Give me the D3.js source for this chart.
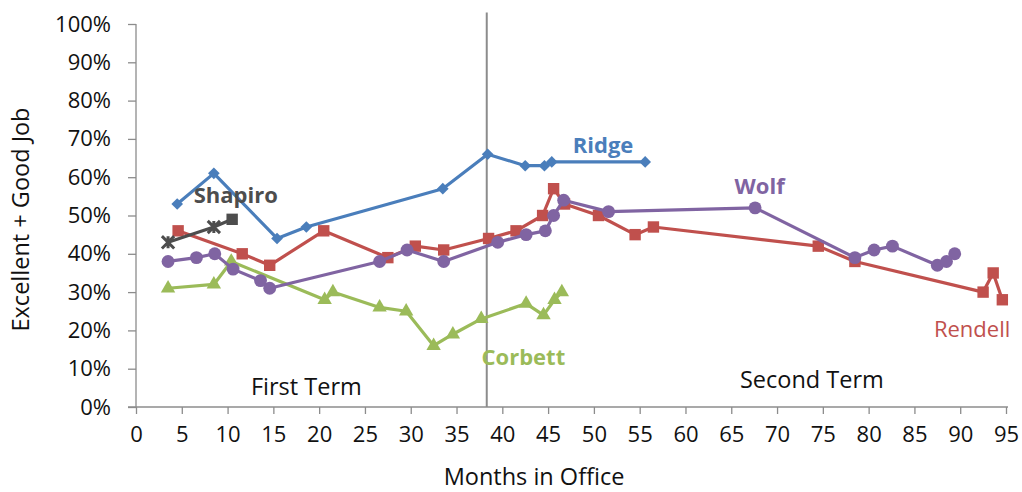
<!DOCTYPE html>
<html>
<head>
<meta charset="utf-8">
<script src="https://cdn.jsdelivr.net/npm/d3@7"></script>
<style>
  html, body { margin: 0; padding: 0; background: #fff; }
  svg { display: block; font-family: "Open Sans", sans-serif; }
</style>
</head>
<body>
<svg id="chart" width="1022" height="492"></svg>
<script>
// Months in office and "excellent + good" job ratings (%) per governor
const ridgeMonths   = [4.5, 8.5, 15.4, 18.6, 33.5, 38.4, 42.5, 44.6, 45.4, 55.6];
const ridgeValues   = [53, 61, 44, 47, 57, 66, 63, 63, 64, 64];

const rendellMonths = [4.6, 11.6, 14.6, 20.5, 27.5, 30.5, 33.6, 38.5, 41.5, 44.4, 45.6, 46.8, 50.5, 54.5, 56.5, 74.5, 78.5, 92.5, 93.6, 94.6];
const rendellValues = [46, 40, 37, 46, 39, 42, 41, 44, 46, 50, 57, 53, 50, 45, 47, 42, 38, 30, 35, 28];

const corbettMonths = [3.5, 8.5, 10.4, 20.6, 21.5, 26.6, 29.5, 32.5, 34.6, 37.7, 42.6, 44.5, 45.7, 46.5];
const corbettValues = [31, 32, 38, 28, 30, 26, 25, 16, 19, 23, 27, 24, 28, 30];

const wolfMonths    = [3.5, 6.6, 8.6, 10.6, 13.6, 14.6, 26.6, 29.6, 33.6, 39.5, 42.6, 44.7, 45.6, 46.7, 51.6, 67.6, 78.5, 80.6, 82.6, 87.5, 88.5, 89.4];
const wolfValues    = [38, 39, 40, 36, 33, 31, 38, 41, 38, 43, 45, 46, 50, 54, 51, 52, 39, 41, 42, 37, 38, 40];

const shapiroMonths = [3.5, 8.5, 10.5];
const shapiroValues = [43, 47, 49];

// Axis ticks and the month that splits the two terms
const xTicks = d3.range(0, 100, 5);
const yTicks = d3.range(0, 101, 10);
const termBreak = 38.3;

const svg = d3.select("#chart");
const x = d3.scaleLinear().domain([0, 95]).range([136, 1006]);
const y = d3.scaleLinear().domain([0, 100]).range([407, 24]);
const axisColor = "#8c8c8c";
const textColor = "#111";
const wordSize = 23.5;
const digitSize = 22;

// Y axis
const yAxis = svg.append("g")
  .attr("transform", `translate(${x(0)},0)`)
  .call(d3.axisLeft(y).tickValues(yTicks).tickSize(8).tickPadding(17).tickFormat(d => d + "%"));
yAxis.select(".domain").attr("stroke", axisColor).attr("stroke-width", 1.3)
  .attr("d", `M0,${y(100)}V${y(0)}`);
yAxis.selectAll(".tick line").attr("stroke", axisColor).attr("stroke-width", 1.3);
yAxis.selectAll(".tick text").attr("font-size", digitSize).attr("fill", textColor)
  .attr("font-family", "'Open Sans', sans-serif");

// X axis
const xAxis = svg.append("g")
  .attr("transform", `translate(0,${y(0)})`)
  .call(d3.axisBottom(x).tickValues(xTicks).tickSize(7).tickPadding(12));
xAxis.select(".domain").attr("stroke", axisColor).attr("stroke-width", 1.3)
  .attr("d", `M${x(0) - 8},0H${x(95) + 2}`);
xAxis.selectAll(".tick line").attr("stroke", axisColor).attr("stroke-width", 1.3);
xAxis.selectAll(".tick text").attr("font-size", digitSize).attr("fill", textColor)
  .attr("font-family", "'Open Sans', sans-serif");

// Axis titles
svg.append("text")
  .attr("x", 534).attr("y", 485)
  .attr("text-anchor", "middle").attr("font-size", wordSize).attr("fill", textColor)
  .text("Months in Office");
svg.append("text")
  .attr("transform", `translate(29,${(y(0) + y(100)) / 2 + 4}) rotate(-90)`)
  .attr("text-anchor", "middle").attr("font-size", wordSize).attr("fill", textColor)
  .text("Excellent + Good Job");

// Divider between first and second term
svg.append("line")
  .attr("x1", x(termBreak)).attr("x2", x(termBreak))
  .attr("y1", y(103)).attr("y2", y(0))
  .attr("stroke", "#8c8c8c").attr("stroke-width", 2);

svg.append("text").attr("x", x(18.6)).attr("y", 395)
  .attr("text-anchor", "middle").attr("font-size", wordSize).attr("fill", textColor).text("First Term");
svg.append("text").attr("x", x(73.8)).attr("y", 388)
  .attr("text-anchor", "middle").attr("font-size", wordSize).attr("fill", textColor).text("Second Term");

const line = d3.line().x(d => x(d[0])).y(d => y(d[1]));
const zip = (ms, vs) => ms.map((m, i) => [m, vs[i]]);

function drawSeries(months, values, color, symbol, size, rotate) {
  const pts = zip(months, values);
  const g = svg.append("g");
  g.append("path").datum(pts).attr("d", line)
    .attr("fill", "none").attr("stroke", color).attr("stroke-width", 3.2)
    .attr("stroke-linejoin", "round");
  g.selectAll("path.mk").data(pts).join("path").attr("class", "mk")
    .attr("d", d3.symbol().type(symbol).size(size))
    .attr("transform", d => `translate(${x(d[0])},${y(d[1])}) rotate(${rotate || 0})`)
    .attr("fill", color);
  return g;
}

drawSeries(ridgeMonths, ridgeValues, "#4a7ebb", d3.symbolSquare, 68, 45);
drawSeries(rendellMonths, rendellValues, "#c0504d", d3.symbolSquare, 130);
drawSeries(corbettMonths, corbettValues, "#9bbb59", d3.symbolTriangle, 90);
drawSeries(wolfMonths, wolfValues, "#8064a2", d3.symbolCircle, 130);

// Shapiro: asterisk markers followed by a square for the latest poll
const shapiroColor = "#4d4d4d";
const sp = zip(shapiroMonths, shapiroValues);
const sg = svg.append("g");
sg.append("path").datum(sp).attr("d", line)
  .attr("fill", "none").attr("stroke", shapiroColor).attr("stroke-width", 3.2);
const last = sp.length - 1;
sg.selectAll("path.mk").data(sp).join("path").attr("class", "mk")
  .attr("d", (d, i) => i === last
    ? d3.symbol().type(d3.symbolSquare).size(130)()
    : d3.symbol().type(d3.symbolX).size(100)() + "M0,-6V6")
  .attr("transform", d => `translate(${x(d[0])},${y(d[1])})`)
  .attr("fill", shapiroColor)
  .attr("stroke", (d, i) => i === last ? "none" : shapiroColor)
  .attr("stroke-width", 3);

// Series labels
const labels = [
  { text: "Shapiro", color: shapiroColor, mx: 10.9, vy: 203, weight: "bold" },
  { text: "Ridge",   color: "#4a7ebb",  mx: 51.0, vy: 152.5, weight: "bold" },
  { text: "Wolf",    color: "#8064a2",  mx: 68.1, vy: 194, weight: "bold" },
  { text: "Rendell", color: "#c0504d",  mx: 91.3, vy: 337, weight: "normal" },
  { text: "Corbett", color: "#9bbb59",  mx: 42.3, vy: 365, weight: "bold" }
];
svg.selectAll("text.lbl").data(labels).join("text").attr("class", "lbl")
  .attr("x", d => x(d.mx)).attr("y", d => d.vy)
  .attr("text-anchor", "middle").attr("font-size", 22)
  .attr("font-weight", d => d.weight).attr("fill", d => d.color)
  .text(d => d.text);
</script>
</body>
</html>
